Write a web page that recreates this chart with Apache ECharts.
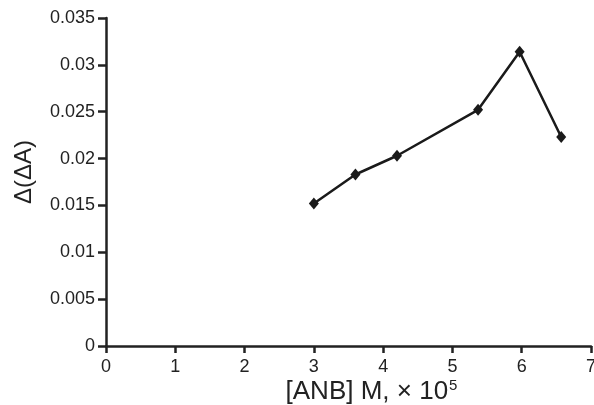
<!DOCTYPE html>
<html>
<head>
<meta charset="utf-8">
<script src="https://cdn.jsdelivr.net/npm/echarts@6/dist/echarts.min.js"></script>
<style>
  html, body { margin: 0; padding: 0; background: #fff; }
  #chart { width: 594px; height: 405px; }
</style>
</head>
<body>
<div id="chart"></div>
<script>
// concentration [ANB] M x 10^5
var xValues = [3.0, 3.6, 4.2, 5.37, 5.97, 6.57]
// Δ(ΔA)
var yValues = [0.0152, 0.0183, 0.0203, 0.0252, 0.0314, 0.0223]
var yTicks = ['0', '0.005', '0.01', '0.015', '0.02', '0.025', '0.03', '0.035']

var chart = echarts.init(document.getElementById('chart'))
var font = 'Liberation Sans, Arial, sans-serif'

chart.setOption({
  animation: false,
  grid: { left: 106, right: 3, top: 18, bottom: 59, outerBoundsMode: 'none', containLabel: false },
  xAxis: {
    type: 'value',
    min: 0, max: 7, interval: 1,
    name: '{t|[ANB] M, × 10}{s|5}',
    nameLocation: 'middle',
    nameGap: 32,
    nameMoveOverlap: false,
    nameTextStyle: {
      padding: [0, 0, 0, 46],
      rich: {
        t: { fontFamily: font, fontSize: 26, color: '#222', lineHeight: 28 },
        s: { fontFamily: font, fontSize: 15, color: '#222', verticalAlign: 'top', lineHeight: 28, padding: [0, 0, 8, 1] }
      }
    },
    axisLine: { lineStyle: { color: '#222', width: 2.5 } },
    axisTick: { length: 7, lineStyle: { color: '#222', width: 2.5 } },
    axisLabel: { fontFamily: font, fontSize: 18, color: '#222', margin: 12 },
    splitLine: { show: false }
  },
  yAxis: {
    type: 'value',
    min: 0, max: 0.035, interval: 0.005,
    name: 'Δ(ΔA)',
    nameLocation: 'middle',
    nameGap: 70,
    nameMoveOverlap: false,
    nameTextStyle: { fontFamily: font, fontSize: 24, color: '#222', padding: [0, 0, 0, 20] },
    axisLine: { show: true, lineStyle: { color: '#222', width: 2.5 } },
    axisTick: { show: true, length: 8, lineStyle: { color: '#222', width: 2.5 } },
    axisLabel: {
      fontFamily: font, fontSize: 18, color: '#222', margin: 11,
      formatter: function (v) { return yTicks[Math.round(v / 0.005)] }
    },
    splitLine: { show: false }
  },
  series: [{
    type: 'line',
    data: xValues.map(function (x, i) { return [x, yValues[i]] }),
    symbol: 'diamond',
    symbolSize: [10, 12],
    lineStyle: { color: '#1a1a1a', width: 2.5 },
    itemStyle: { color: '#1a1a1a' }
  }]
})
</script>
</body>
</html>
